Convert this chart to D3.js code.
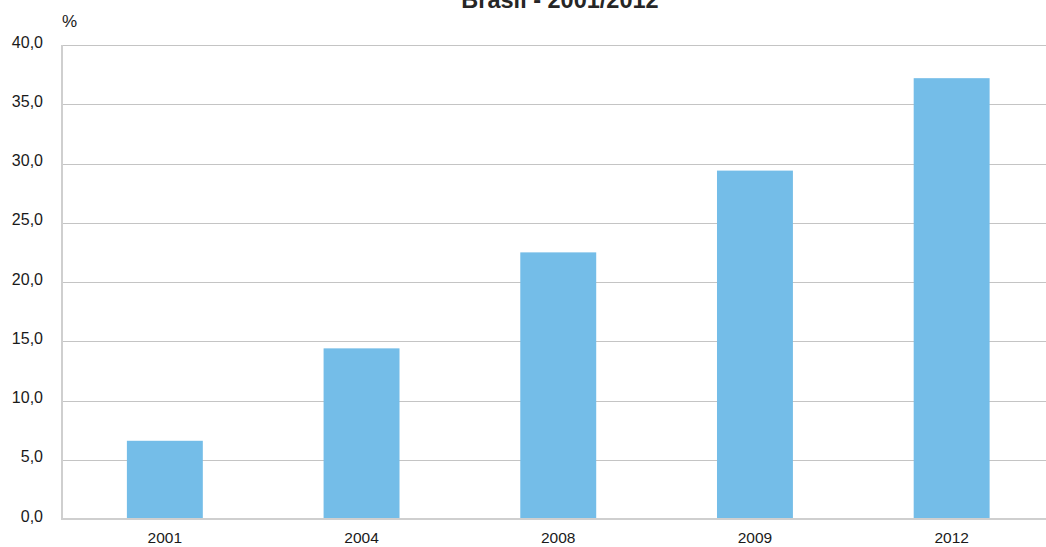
<!DOCTYPE html>
<html>
<head>
<meta charset="utf-8">
<script src="https://cdn.jsdelivr.net/npm/d3@7"></script>
<style>
  html, body { margin: 0; padding: 0; background: #fff; }
  svg { display: block; font-family: "Liberation Sans", Arial, sans-serif; }
</style>
</head>
<body>
<svg id="chart" width="1046" height="547"></svg>
<script>
const title = "Brasil - 2001/2012";
const unitLabel = "%";
const categories = ["2001", "2004", "2008", "2009", "2012"];
const values = [6.6, 14.4, 22.5, 29.4, 37.2];
const yTicks = [0, 5, 10, 15, 20, 25, 30, 35, 40];

const svg = d3.select("#chart");
const W = 1046, H = 547;
const plot = { left: 62, top: 45, bottom: 519, bandStart: 66.5, bandEnd: 1050 };

const y = d3.scaleLinear().domain([0, 40]).range([plot.bottom, plot.top]);
const x = d3.scaleBand().domain(categories)
  .range([plot.bandStart, plot.bandEnd])
  .paddingInner(0.614).paddingOuter(0.307);

const fmt = v => d3.format(".1f")(v).replace(".", ",");

// gridlines
svg.append("g").selectAll("line").data(yTicks.filter(t => t > 0)).join("line")
  .attr("x1", plot.left).attr("x2", W)
  .attr("y1", d => Math.round(y(d)) + 0.5).attr("y2", d => Math.round(y(d)) + 0.5)
  .attr("stroke", "#c4c4c4").attr("stroke-width", 1.2);

// bars
svg.append("g").selectAll("rect").data(values).join("rect")
  .attr("x", (d, i) => x(categories[i]))
  .attr("width", x.bandwidth())
  .attr("y", d => y(d))
  .attr("height", d => y(0) - y(d))
  .attr("fill", "#74bde8");

// axes lines
svg.append("line").attr("x1", plot.left).attr("x2", plot.left)
  .attr("y1", plot.top).attr("y2", plot.bottom + 1)
  .attr("stroke", "#cfcfcf").attr("stroke-width", 2);
svg.append("line").attr("x1", plot.left - 1).attr("x2", W)
  .attr("y1", plot.bottom).attr("y2", plot.bottom)
  .attr("stroke", "#cfcfcf").attr("stroke-width", 2);

// y tick labels
svg.append("g").selectAll("text").data(yTicks).join("text")
  .attr("x", 43).attr("y", d => y(d) + 2.5)
  .attr("text-anchor", "end")
  .attr("font-size", 16).attr("fill", "#1a1a1a")
  .text(d => fmt(d));

// x tick labels
svg.append("g").selectAll("text").data(categories).join("text")
  .attr("x", d => x(d) + x.bandwidth() / 2).attr("y", 543)
  .attr("text-anchor", "middle")
  .attr("font-size", 15.5).attr("fill", "#1a1a1a")
  .text(d => d);

// unit label
svg.append("text").attr("x", 62).attr("y", 27)
  .attr("font-size", 17).attr("fill", "#1a1a1a").text(unitLabel);

// title
svg.append("text").attr("x", 560).attr("y", 8)
  .attr("text-anchor", "middle").attr("font-weight", "bold")
  .attr("font-size", 23.5).attr("fill", "#262626").text(title);
</script>
</body>
</html>
